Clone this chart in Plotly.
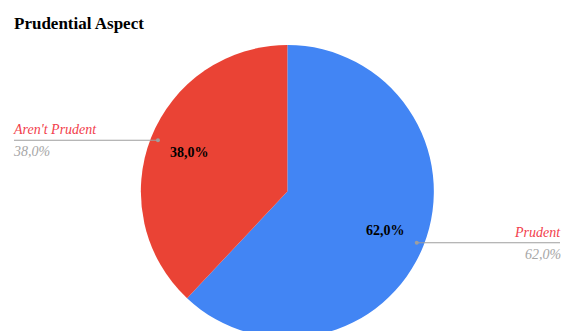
import math
import plotly.graph_objects as go

labels = ["Prudent", "Aren't Prudent"]
values = [62.0, 38.0]
colors = ["#4285f4", "#ea4335"]
title_text = "Prudential Aspect"

W, H = 569, 338
T = 45
dom_x = [0.01, 1.0]

fig = go.Figure(go.Pie(
    labels=labels,
    values=values,
    sort=False,
    direction="clockwise",
    rotation=0,
    marker=dict(colors=colors, line=dict(width=0)),
    textinfo="none",
    domain=dict(x=dom_x, y=[0, 1]),
    showlegend=False,
    hoverinfo="label+percent",
))

# geometry of the pie in pixels (derived from the layout)
plot_h = H - T
R = min((dom_x[1] - dom_x[0]) * W, plot_h) / 2
cx = (dom_x[0] + dom_x[1]) / 2 * W
cy = T + plot_h / 2

def to_paper(x, y):
    return x / W, (H - y) / plot_h

total = sum(values)
cum = 0.0
shapes = []
annotations = []
for lab, v in zip(labels, values):
    mid = (cum + v / 2) / total * 2 * math.pi
    cum += v
    dx, dy = math.sin(mid), -math.cos(mid)
    pct = f"{v / total * 100:.1f}%".replace(".", ",")
    # inside percentage label
    ix, iy = to_paper(cx + 0.72 * R * dx, cy + 0.72 * R * dy)
    annotations.append(dict(xref="paper", yref="paper", x=ix, y=iy, xanchor="center", yanchor="middle",
                            text=f"<b>{pct}</b>", showarrow=False,
                            font=dict(family="Liberation Serif", size=14, color="#000000")))
    # leader line + outside label
    px, py = cx + 0.95 * R * dx, cy + 0.95 * R * dy
    if dx >= 0:
        ex, anchor, xs = 560, "right", 3
    else:
        ex, anchor, xs = 14, "left", -3
    x0, y0 = to_paper(px, py)
    x1, _ = to_paper(ex, py)
    shapes.append(dict(type="line", xref="paper", yref="paper", x0=x0, y0=y0, x1=x1, y1=y0,
                       line=dict(color="#9e9e9e", width=1.2)))
    shapes.append(dict(type="circle", xref="paper", yref="paper",
                       x0=(px - 2) / W, x1=(px + 2) / W,
                       y0=(H - py - 2) / plot_h, y1=(H - py + 2) / plot_h,
                       fillcolor="#9e9e9e", line=dict(width=0)))
    annotations.append(dict(xref="paper", yref="paper", x=x1, y=y0, xanchor=anchor, yanchor="bottom",
                            text=f"<i>{lab}</i>", showarrow=False, yshift=1, xshift=xs,
                            font=dict(family="Liberation Serif", size=14, color="#f2404c")))
    annotations.append(dict(xref="paper", yref="paper", x=x1, y=y0, xanchor=anchor, yanchor="top",
                            text=f"<i>{pct}</i>", showarrow=False, yshift=-2, xshift=xs,
                            font=dict(family="Liberation Serif", size=14, color="#a6a6a6")))

fig.update_layout(
    width=W, height=H,
    margin=dict(l=0, r=0, t=T, b=0),
    paper_bgcolor="white",
    separators=",.",
    title=dict(text=title_text, x=14 / W, xanchor="left", xref="container",
               y=1 - 23 / H, yanchor="middle", yref="container",
               font=dict(family="Liberation Serif", size=17, color="#000000", weight="bold")),
    shapes=shapes,
    annotations=annotations,
)

fig.write_html("out.html", post_script="document.documentElement.style.overflow='hidden';document.body.style.overflow='hidden';")
